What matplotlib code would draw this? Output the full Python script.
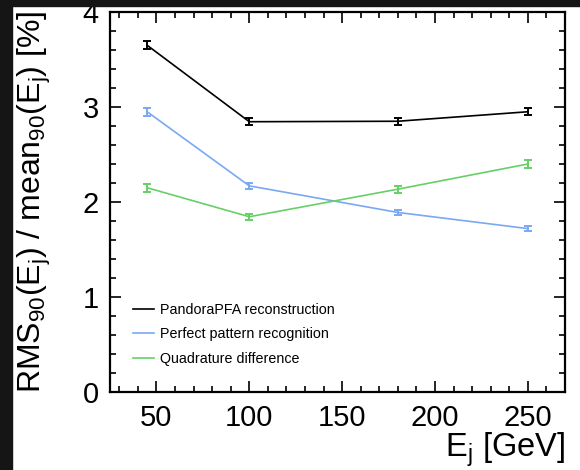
import matplotlib
matplotlib.use("Agg")
import matplotlib.pyplot as plt
from matplotlib.patches import Rectangle
from matplotlib.ticker import MultipleLocator

plt.rcParams['font.family'] = ['Liberation Sans', 'DejaVu Sans']
plt.rcParams['mathtext.fontset'] = 'custom'
plt.rcParams['mathtext.rm'] = 'Liberation Sans'
plt.rcParams['mathtext.it'] = 'Liberation Sans'

energies = [45, 100, 180, 250]
pandora = [3.65, 2.845, 2.85, 2.95]
pandora_err = [0.04, 0.035, 0.035, 0.035]
perfect = [2.95, 2.17, 1.89, 1.72]
perfect_err = [0.04, 0.03, 0.025, 0.025]
quad = [2.15, 1.845, 2.135, 2.40]
quad_err = [0.04, 0.03, 0.035, 0.04]
labels = ["PandoraPFA reconstruction", "Perfect pattern recognition", "Quadrature difference"]
colors = ["#000000", "#7aa8f2", "#66d066"]

W, H = 580, 470
fig = plt.figure(figsize=(W/100, H/100), dpi=100)
fig.patch.set_facecolor("white")

# dark borders of the screenshot
fig.patches.append(Rectangle((0, 0), 12/W, 1, transform=fig.transFigure, color="#151515", zorder=0))
fig.patches.append(Rectangle((0, 1-6/H), 1, 6/H, transform=fig.transFigure, color="#151515", zorder=0))

ax = fig.add_axes([110/W, (H-392)/H, (565-110)/W, (392-12)/H])

handles = []
for y, e, c, lab in zip([pandora, perfect, quad], [pandora_err, perfect_err, quad_err], colors, labels):
    ax.errorbar(energies, y, yerr=e, color=c, lw=1.2, elinewidth=1.4, capsize=3, capthick=1.4)
    h, = ax.plot([], [], color=c, lw=1.2, label=lab)
    handles.append(h)

ax.set_xlim(25, 270)
ax.set_ylim(0, 4)
ax.xaxis.set_major_locator(MultipleLocator(50))
ax.xaxis.set_minor_locator(MultipleLocator(10))
ax.yaxis.set_major_locator(MultipleLocator(1))
ax.yaxis.set_minor_locator(MultipleLocator(0.2))
ax.tick_params(which='both', direction='in', top=True, right=True, width=1.2)
ax.tick_params(which='major', length=8, labelsize=21)
ax.tick_params(axis='x', which='major', pad=9)
ax.tick_params(axis='y', which='major', pad=8)
ax.tick_params(which='minor', length=4)
for s in ax.spines.values():
    s.set_linewidth(1.6)

leg = ax.legend(handles=handles, loc='lower left', bbox_to_anchor=(23/455, 0.068),
                frameon=False, fontsize=10.3, handlelength=1.5, handletextpad=0.4,
                labelspacing=0.75, borderpad=0, borderaxespad=0)

fig.text(565/W, 1-457/H, r"E$_{\rm j}$ [GeV]", ha='right', va='baseline', fontsize=23.5)
fig.text(34/W, 1-202/H, r"RMS$_{90}$(E$_{\rm j}$) / mean$_{90}$(E$_{\rm j}$) [%]",
         rotation=90, ha='center', va='center', fontsize=23)

fig.savefig("out.png", dpi=100, facecolor=fig.get_facecolor())
